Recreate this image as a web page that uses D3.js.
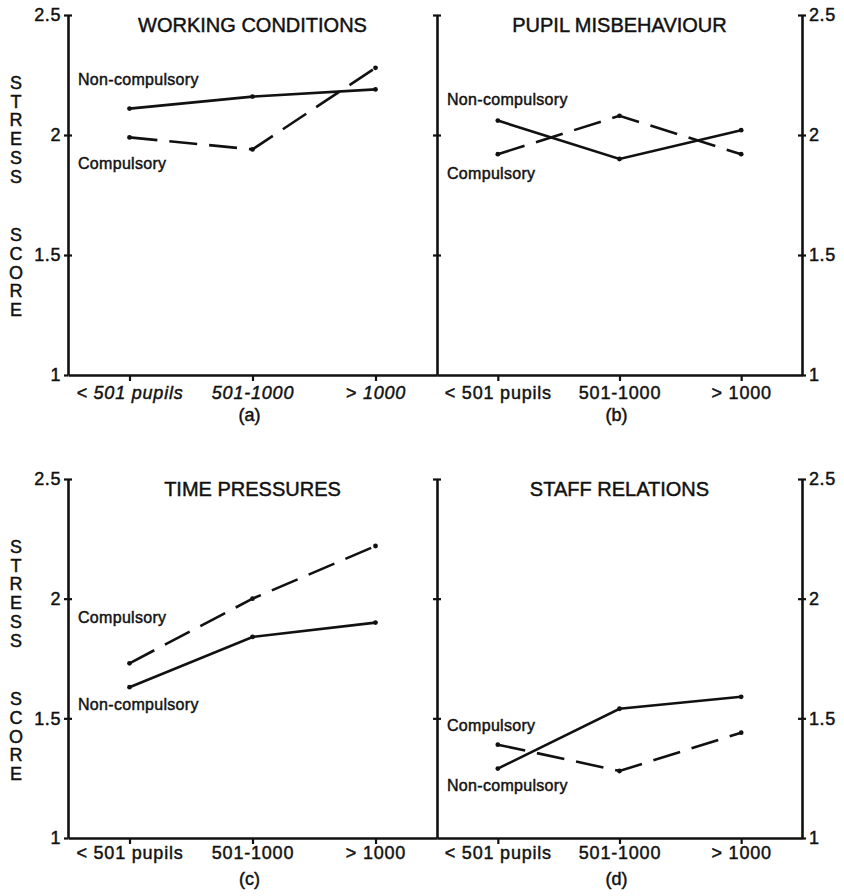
<!DOCTYPE html>
<html>
<head>
<meta charset="utf-8">
<script src="https://cdn.jsdelivr.net/npm/d3@7"></script>
<style>
  body { margin: 0; background: #fff; }
  svg { display: block; }
  text { font-family: "Liberation Sans", Arial, Helvetica, sans-serif; fill: #111; stroke: #111; stroke-width: 0.45px; }
</style>
</head>
<body>
<svg id="chart" width="844" height="896"></svg>
<script>
const categories = ["< 501 pupils", "501-1000", "> 1000"];
const yTicks = [1, 1.5, 2, 2.5];
const panelTitles = ["WORKING CONDITIONS", "PUPIL MISBEHAVIOUR", "TIME PRESSURES", "STAFF RELATIONS"];
const panelLetters = ["(a)", "(b)", "(c)", "(d)"];

// stress scores per panel, one value per school size
const compulsory = [
  [1.99, 1.94, 2.28],
  [1.92, 2.08, 1.92],
  [1.73, 2.0, 2.22],
  [1.39, 1.28, 1.44],
];
const nonCompulsory = [
  [2.11, 2.16, 2.19],
  [2.06, 1.9, 2.02],
  [1.63, 1.84, 1.9],
  [1.29, 1.54, 1.59],
];
// score level at which each series name sits
const compulsoryLabelAt = [1.88, 1.84, 1.92, 1.47];
const nonCompulsoryLabelAt = [2.23, 2.15, 1.56, 1.22];

const svg = d3.select("#chart");

const cols = [{ x0: 68, x1: 437 }, { x0: 437, x1: 802 }];
const rows = [
  { top: 15, bottom: 375, labPad: 5, letterY: 421 },
  { top: 479, bottom: 838, labPad: 2, letterY: 885 },
];

const crossTicks = (g) => {
  g.selectAll(".domain").attr("stroke-width", 2.6).attr("stroke", "#111");
  g.selectAll(".tick line").attr("stroke-width", 2.2).attr("stroke", "#111");
};

panelTitles.forEach((title, i) => {
  const col = cols[i % 2];
  const row = rows[Math.floor(i / 2)];
  const g = svg.append("g").attr("class", "panel");

  const x = d3.scalePoint().domain(categories).range([col.x0, col.x1]).padding(0.5);
  const y = d3.scaleLinear().domain([1, 2.5]).range([row.bottom, row.top]);

  // x axis
  const xAxis = g.append("g")
    .attr("transform", `translate(0,${row.bottom})`)
    .call(d3.axisBottom(x).tickSize(6).tickSizeOuter(0).tickPadding(row.labPad));
  crossTicks(xAxis);
  xAxis.selectAll("text")
    .attr("font-size", 18)
    .attr("letter-spacing", 0.8)
    .attr("font-style", i === 0 ? "italic" : "normal")
    .attr("font-family", '"Liberation Sans", Arial, sans-serif');

  if (i % 2 === 0) {
    // left axis with labels
    const yl = g.append("g").attr("transform", `translate(${col.x0},0)`)
      .call(d3.axisLeft(y).tickValues(yTicks).tickSize(4).tickSizeOuter(0)
        .tickPadding(3).tickFormat(d3.format("")));
    crossTicks(yl);
    yl.selectAll("text").attr("font-size", 18).attr("letter-spacing", 0.6)
      .attr("font-family", '"Liberation Sans", Arial, sans-serif');
    const yr = g.append("g").attr("transform", `translate(${col.x0},0)`)
      .call(d3.axisRight(y).tickValues(yTicks.slice(1)).tickSize(4).tickSizeOuter(0).tickFormat(""));
    yr.select(".domain").remove();
    crossTicks(yr);

    // y title, letters stacked
    const word1 = "STRESS".split("");
    const word2 = "SCORE".split("");
    g.selectAll(".t1").data(word1).enter().append("text")
      .attr("x", 16).attr("y", (d, k) => row.top + 74 + k * 18.7)
      .attr("text-anchor", "middle").attr("font-size", 18).text((d) => d);
    g.selectAll(".t2").data(word2).enter().append("text")
      .attr("x", 16).attr("y", (d, k) => row.top + 226 + k * 18.8)
      .attr("text-anchor", "middle").attr("font-size", 18).text((d) => d);
  } else {
    // middle axis, ticks both sides
    const ym = g.append("g").attr("transform", `translate(${col.x0},0)`)
      .call(d3.axisLeft(y).tickValues(yTicks.slice(1)).tickSize(4).tickSizeOuter(0).tickFormat(""));
    crossTicks(ym);
    const ym2 = g.append("g").attr("transform", `translate(${col.x0},0)`)
      .call(d3.axisRight(y).tickValues(yTicks.slice(1)).tickSize(4).tickSizeOuter(0).tickFormat(""));
    ym2.select(".domain").remove();
    crossTicks(ym2);

    // right axis with labels
    const yr = g.append("g").attr("transform", `translate(${col.x1},0)`)
      .call(d3.axisRight(y).tickValues(yTicks).tickSize(4).tickSizeOuter(0)
        .tickPadding(3).tickFormat(d3.format("")));
    crossTicks(yr);
    yr.selectAll("text").attr("font-size", 18).attr("letter-spacing", 0.6)
      .attr("font-family", '"Liberation Sans", Arial, sans-serif');
    const yl = g.append("g").attr("transform", `translate(${col.x1},0)`)
      .call(d3.axisLeft(y).tickValues(yTicks.slice(1)).tickSize(4).tickSizeOuter(0).tickFormat(""));
    yl.select(".domain").remove();
    crossTicks(yl);
  }

  // title and panel letter
  const mid = x(categories[1]);
  g.append("text").attr("x", mid).attr("y", row.top + 17)
    .attr("text-anchor", "middle").attr("font-size", 20).text(title);
  g.append("text").attr("x", mid - 3).attr("y", row.letterY)
    .attr("text-anchor", "middle").attr("font-size", 18).text(panelLetters[i]);

  const line = d3.line()
    .x((d, j) => x(categories[j]))
    .y((d) => y(d));

  const series = [
    { values: nonCompulsory[i], dash: null, name: "Non-compulsory", labelAt: nonCompulsoryLabelAt[i] },
    { values: compulsory[i], dash: "28,12", name: "Compulsory", labelAt: compulsoryLabelAt[i] },
  ];

  series.forEach((s) => {
    g.append("path")
      .datum(s.values)
      .attr("d", line)
      .attr("fill", "none")
      .attr("stroke", "#111")
      .attr("stroke-width", 2.6)
      .attr("stroke-dasharray", s.dash);

    g.selectAll(null)
      .data(s.values)
      .enter()
      .append("circle")
      .attr("cx", (d, j) => x(categories[j]))
      .attr("cy", (d) => y(d))
      .attr("r", 2.4)
      .attr("fill", "#111");

    g.append("text")
      .attr("x", col.x0 + 10)
      .attr("y", y(s.labelAt))
      .attr("dy", "0.35em")
      .attr("font-size", 16)
      .attr("letter-spacing", 0.3)
      .text(s.name);
  });
});
</script>
</body>
</html>
